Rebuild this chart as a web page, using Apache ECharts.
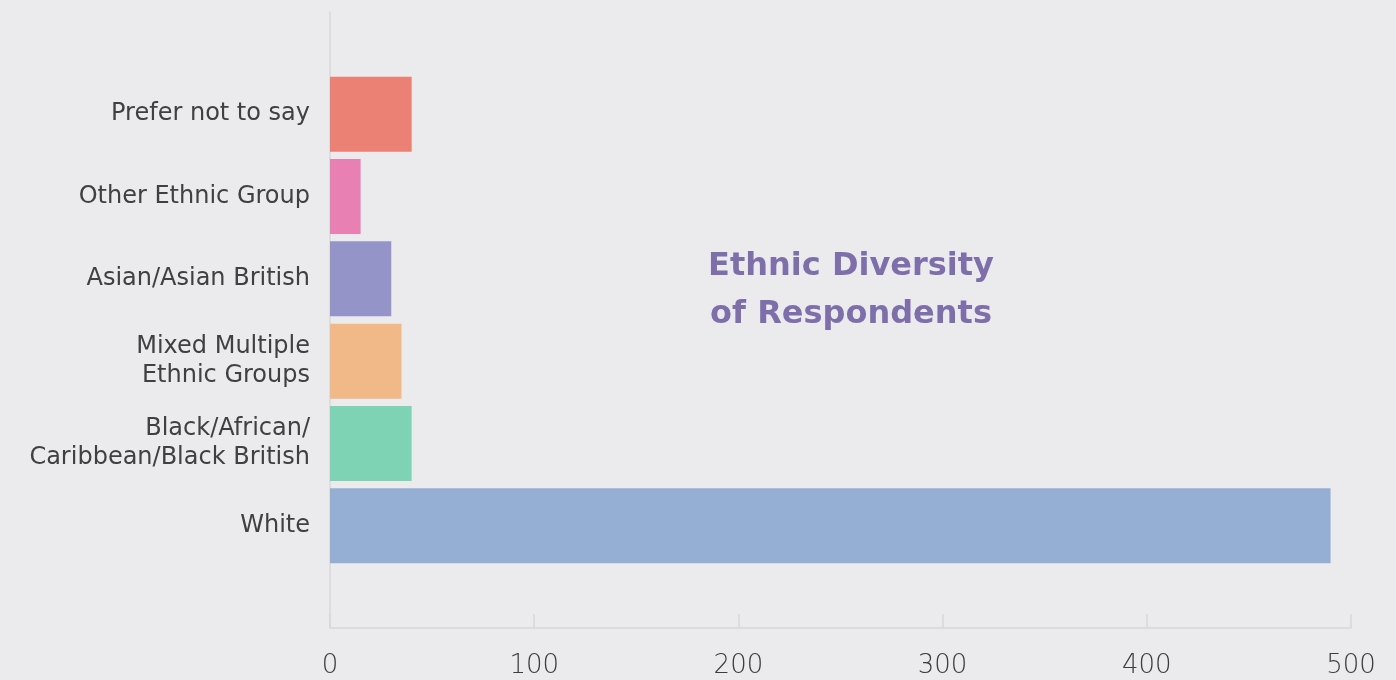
<!DOCTYPE html>
<html>
<head>
<meta charset="utf-8">
<script src="https://cdn.jsdelivr.net/npm/echarts@6/dist/echarts.min.js"></script>
<style>
  html, body { margin: 0; padding: 0; background: #ebebee; }
  #chart { width: 1396px; height: 680px; }
</style>
</head>
<body>
<div id="chart"></div>
<script>
// Respondent counts by ethnic group, listed top to bottom
const categories = [
  'Prefer not to say',
  'Other Ethnic Group',
  'Asian/Asian British',
  'Mixed Multiple\nEthnic Groups',
  'Black/African/\nCaribbean/Black British',
  'White'
];
const counts = [40, 15, 30, 35, 40, 490];
const barColors = ['#eb8174', '#e880b4', '#9494c8', '#f1b987', '#7fd3b5', '#95aed4'];
const xTicks = [0, 100, 200, 300, 400, 500];

const FONT = 'DejaVu Sans';

const chart = echarts.init(document.getElementById('chart'));
chart.setOption({
  backgroundColor: '#ebebee',
  animation: false,
  title: {
    text: 'Ethnic Diversity\nof Respondents',
    left: 846,
    top: 238,
    textAlign: 'center',
    textStyle: {
      fontFamily: FONT,
      fontSize: 32,
      fontWeight: 'bold',
      lineHeight: 48,
      color: '#7e6fab'
    }
  },
  grid: [
    { left: 330, right: 45, top: 12, bottom: 52 },
    { left: 330, right: 45, top: 73, bottom: 113 }
  ],
  xAxis: [
    {
      gridIndex: 0,
      type: 'value',
      min: xTicks[0],
      max: xTicks[xTicks.length - 1],
      interval: xTicks[1] - xTicks[0],
      axisLine: { show: true, lineStyle: { color: '#d8d8da', width: 1.5 } },
      axisTick: { show: true, inside: true, length: 14, lineStyle: { color: '#d8d8da', width: 1.5 } },
      splitLine: { show: false },
      axisLabel: {
        margin: 25,
        fontFamily: FONT,
        fontSize: 26,
        fontWeight: 200,
        color: '#3c3c3c'
      }
    },
    {
      gridIndex: 1,
      type: 'value',
      min: xTicks[0],
      max: xTicks[xTicks.length - 1],
      show: false
    }
  ],
  yAxis: [
    {
      gridIndex: 0,
      type: 'value',
      min: 0,
      max: 1,
      axisLine: { show: true, lineStyle: { color: '#d8d8da', width: 1.5 } },
      axisTick: { show: false },
      axisLabel: { show: false },
      splitLine: { show: false }
    },
    {
      gridIndex: 1,
      type: 'category',
      inverse: true,
      data: categories,
      axisLine: { show: false },
      axisTick: { show: false },
      axisLabel: {
        margin: 20,
        fontFamily: FONT,
        fontSize: 24,
        lineHeight: 29,
        color: '#404040',
        align: 'right'
      }
    }
  ],
  series: [
    {
      type: 'bar',
      xAxisIndex: 1,
      yAxisIndex: 1,
      barCategoryGap: '9%',
      data: counts.map((v, i) => ({ value: v, itemStyle: { color: barColors[i] } }))
    }
  ]
});
</script>
</body>
</html>
